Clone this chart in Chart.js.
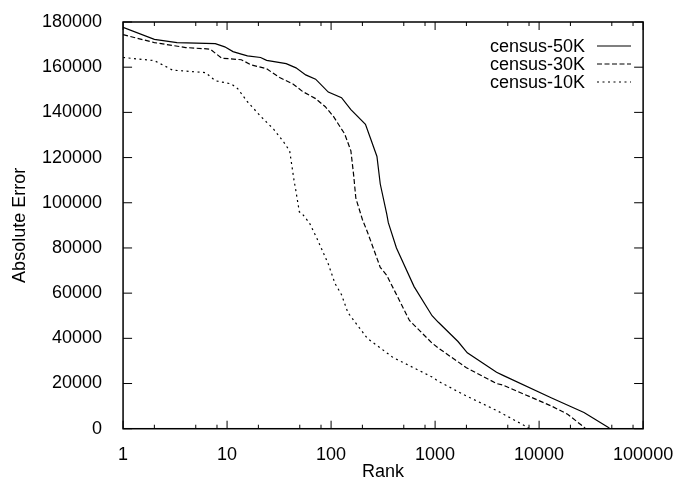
<!DOCTYPE html>
<html>
<head>
<meta charset="utf-8">
<script src="https://cdn.jsdelivr.net/npm/chart.js@4.4.1/dist/chart.umd.min.js"></script>
<style>
  html, body { margin: 0; padding: 0; background: #fff; }
  canvas { display: block; }
</style>
</head>
<body>
<canvas id="chartError" width="682" height="483"></canvas>
<script>
// values (rank, absolute error)
const seriesNames = ['census-50K', 'census-30K', 'census-10K'];

const rank50 = [1, 2, 3.3, 7.7, 9.5, 11.4, 13.7, 15.7, 21, 24, 37, 46, 57, 71, 94, 126, 155, 214, 240, 276, 297, 343, 355, 425, 628, 935, 1075, 1660, 2040, 3900, 4500, 13200, 27000, 46000, 48000];
const err50  = [177600, 172300, 170900, 170400, 169000, 166900, 165800, 165000, 164300, 163000, 161600, 159700, 156600, 154700, 149000, 146500, 141200, 134700, 128300, 120500, 108300, 95000, 91200, 80000, 62900, 50000, 47100, 38600, 33600, 25000, 23600, 13600, 7200, 700, 0];

const rank30 = [1, 2, 4, 6.9, 7.7, 8.9, 13.7, 16.9, 24, 32, 43, 53, 71, 88, 105, 135, 155, 165, 173, 200, 223, 297, 343, 567, 935, 1075, 2000, 3900, 4500, 13200, 18800, 27000, 28000];
const err30  = [174400, 170900, 168700, 168000, 166200, 164000, 163300, 161100, 159300, 155400, 152600, 149300, 146100, 142500, 138300, 130500, 123000, 112000, 102000, 92600, 87200, 71400, 67900, 47900, 37900, 35700, 27000, 20000, 19300, 10000, 6400, 700, 0];

const rank10 = [1, 2, 3, 6.2, 7.7, 11, 12.7, 15.7, 21, 28, 35, 40, 44, 46, 49.5, 53, 62, 73, 94, 109, 126, 145, 223, 395, 935, 1075, 1900, 2200, 4000, 7700, 8000];
const err10  = [164300, 162900, 158700, 157600, 154000, 152600, 150400, 144700, 138300, 132600, 126900, 122900, 110000, 105000, 96000, 95000, 91000, 84300, 72900, 64300, 59300, 51400, 40000, 31500, 22900, 21000, 15000, 13600, 7800, 700, 0];

const xTicks = [1, 10, 100, 1000, 10000, 100000];
const xMinor = [2, 5, 8, 20, 50, 80, 200, 500, 800, 2000, 5000, 8000, 20000, 50000, 80000];
const yTicks = [0, 20000, 40000, 60000, 80000, 100000, 120000, 140000, 160000, 180000];

const toPoints = (xs, ys) => xs.map((x, i) => ({ x: x, y: ys[i] }));

Chart.defaults.font.family = '"Liberation Sans", Arial, sans-serif';
Chart.defaults.color = '#000';

const dashes = [[], [5, 2.5], [2, 3.5]];

// frame with ticks pointing inward, mirrored on top and right
const framePlugin = {
    id: 'frame',
    afterDatasetsDraw(chart) {
        const { ctx, chartArea: a, scales } = chart;
        ctx.save();
        ctx.strokeStyle = '#000';
        ctx.lineWidth = 1;
        ctx.beginPath();
        xTicks.forEach(v => {
            const px = scales.x.getPixelForValue(v);
            ctx.moveTo(px, a.bottom); ctx.lineTo(px, a.bottom - 8);
            ctx.moveTo(px, a.top); ctx.lineTo(px, a.top + 8);
        });
        xMinor.forEach(v => {
            const px = scales.x.getPixelForValue(v);
            ctx.moveTo(px, a.bottom); ctx.lineTo(px, a.bottom - 4);
            ctx.moveTo(px, a.top); ctx.lineTo(px, a.top + 4);
        });
        yTicks.forEach(v => {
            const py = scales.y.getPixelForValue(v);
            ctx.moveTo(a.left, py); ctx.lineTo(a.left + 9, py);
            ctx.moveTo(a.right, py); ctx.lineTo(a.right - 9, py);
        });
        ctx.stroke();
        ctx.lineWidth = 1.5;
        ctx.strokeRect(a.left, a.top, a.right - a.left, a.bottom - a.top);
        ctx.restore();
    }
};

// gnuplot style key: text right aligned, line sample after it
const keyPlugin = {
    id: 'key',
    afterDraw(chart) {
        const { ctx } = chart;
        ctx.save();
        ctx.font = '18px "Liberation Sans", Arial, sans-serif';
        ctx.fillStyle = '#000';
        ctx.textAlign = 'right';
        ctx.textBaseline = 'middle';
        chart.data.datasets.forEach((ds, i) => {
            const y = 47 + i * 18;
            ctx.fillText(ds.label, 585, y);
            ctx.strokeStyle = '#000';
            ctx.lineWidth = 1.2;
            ctx.setLineDash(ds.borderDash);
            ctx.beginPath();
            ctx.moveTo(597, y - 1);
            ctx.lineTo(631, y - 1);
            ctx.stroke();
        });
        ctx.restore();
    }
};

const canvas = document.getElementById('chartError');
const context = canvas.getContext('2d');

const chartError = new Chart(context, {
    type: 'line',
    data: {
        datasets: [
            { label: seriesNames[0], data: toPoints(rank50, err50) },
            { label: seriesNames[1], data: toPoints(rank30, err30) },
            { label: seriesNames[2], data: toPoints(rank10, err10) }
        ].map((ds, i) => Object.assign(ds, {
            borderColor: '#000',
            borderWidth: 1.2,
            borderDash: dashes[i],
            pointRadius: 0,
            tension: 0,
            fill: false
        }))
    },
    options: {
        responsive: false,
        animation: false,
        layout: { padding: { left: 5, right: 31, top: 17, bottom: 0 } },
        plugins: {
            legend: { display: false },
            tooltip: { enabled: false }
        },
        scales: {
            x: {
                type: 'logarithmic',
                min: 1,
                max: 100000,
                afterBuildTicks: scale => { scale.ticks = xTicks.map(v => ({ value: v })); },
                ticks: {
                    callback: v => String(v),
                    font: { size: 18, lineHeight: 1 },
                    padding: 8.85,
                    maxRotation: 0,
                    autoSkip: false
                },
                grid: { display: false },
                border: { display: false },
                title: { display: true, text: 'Rank', font: { size: 18, lineHeight: 0.01 }, padding: { top: 0, bottom: 10.4 } }
            },
            y: {
                min: 0,
                max: 180000,
                afterBuildTicks: scale => { scale.ticks = yTicks.map(v => ({ value: v })); },
                ticks: {
                    callback: v => String(v),
                    font: { size: 18, lineHeight: 1 },
                    padding: 13
                },
                grid: { display: false },
                border: { display: false },
                title: { display: true, text: 'Absolute Error', font: { size: 18, lineHeight: 1 }, padding: { top: 6, bottom: 0 } }
            }
        }
    },
    plugins: [framePlugin, keyPlugin]
});
</script>
</body>
</html>
